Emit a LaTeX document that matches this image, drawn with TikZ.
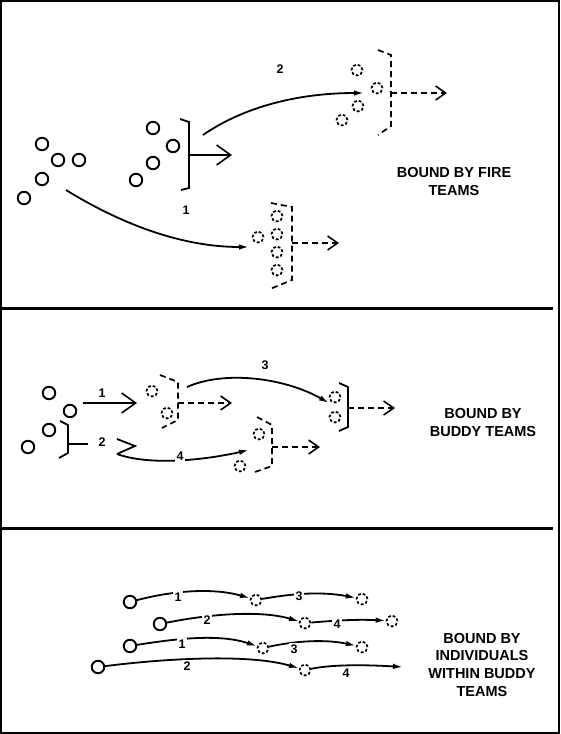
\documentclass[tikz,border=0pt]{standalone}
\usepackage{fontspec}
\setmainfont{Liberation Sans}
\usetikzlibrary{arrows.meta}
\begin{document}
\begin{tikzpicture}[x=1pt,y=-1pt,
  circ/.style={circle,draw,line width=1.9pt,minimum size=12.5pt,inner sep=0pt},
  dcirc/.style={circle,draw,line width=1.7pt,minimum size=11pt,inner sep=0pt,dash pattern=on 2.8pt off 2pt},
  ln/.style={line width=1.8pt},
  dln/.style={line width=1.7pt,dash pattern=on 6pt off 4pt},
  chev/.style={-{Straight Barb[length=14pt,width=20pt,line width=1.6pt]}},
  dchev/.style={-{Straight Barb[length=10pt,width=14pt,line width=1.6pt]}},
  farr/.style={-{Latex[length=10pt,width=5.5pt]}},
  lbl/.style={font=\bfseries\fontsize{12.5}{12.5}\selectfont,inner sep=1pt},
  wlbl/.style={lbl,fill=white,inner sep=2pt},
  txt/.style={font=\bfseries\fontsize{14.5}{18}\selectfont,align=center},
  frame/.style={line width=2.2pt},
]
\useasboundingbox (0,0) rectangle (560,734);
% frame and separators
\draw[frame] (1.1,1.1) rectangle (558.6,732.9);
\coordinate (s1l) at (0,308.5); \coordinate (s1r) at (553,308.5);
\coordinate (s2l) at (0,528.5); \coordinate (s2r) at (553,528.5);
\draw[frame] (s1l) -- (s1r);
\draw[frame] (s2l) -- (s2r);

%================ TOP PANEL =================
\node[circ] (a1) at (42,144) {};
\node[circ] (a2) at (58,160) {};
\node[circ] (a3) at (79,160) {};
\node[circ] (a4) at (42,179) {};
\node[circ] (a5) at (24,198) {};

\node[circ] (b1) at (153,128) {};
\node[circ] (b2) at (173,146) {};
\node[circ] (b3) at (153,163) {};
\node[circ] (b4) at (136,180) {};
\draw[ln] (180,119) -- (189,122) -- (189,188) -- (181,190);
\coordinate (bm) at (189,155);
\coordinate (bt) at (232,155);
\draw[ln,chev] (bm) -- (bt);

% group after move 2
\node[dcirc] (c1) at (357,70) {};
\node[dcirc] (c2) at (377,88) {};
\node[dcirc] (c3) at (358,106) {};
\node[dcirc] (c4) at (342,120) {};
\draw[dln] (378,50) -- (391,55) -- (391,126) -- (378,135);
\coordinate (cm) at (391,93);
\coordinate (ct) at (447,93);
\draw[dln,dchev] (cm) -- (ct);

% group after move 1
\node[dcirc] (d0) at (258,237) {};
\node[dcirc] (d1) at (277,216) {};
\node[dcirc] (d2) at (277,234) {};
\node[dcirc] (d3) at (277,252) {};
\node[dcirc] (d4) at (277,270) {};
\draw[dln] (271,203) -- (292,207) -- (292,280) -- (270,289);
\coordinate (dm) at (292,243);
\coordinate (dt) at (339,243);
\draw[dln,dchev] (dm) -- (dt);

% movement curves
\coordinate (m1s) at (66,190);
\coordinate (m1e) at (249,247);
\draw[ln,farr] (m1s) .. controls (105,214) and (170,247) .. (m1e);
\node[lbl] (l1) at (186,210) {1};
\coordinate (m2s) at (203,135);
\coordinate (m2e) at (364,93);
\draw[ln,farr] (m2s) .. controls (245,106) and (300,93) .. (m2e);
\node[lbl] (l2) at (280,69) {2};

\node[txt] (t1) at (454,182) {BOUND BY FIRE\\TEAMS};

%================ MIDDLE PANEL =================
\node[circ] (e1) at (49,393) {};
\node[circ] (e2) at (70,411) {};
\node[circ] (e3) at (49,430) {};
\node[circ] (e4) at (28,447) {};

% arrow 1
\coordinate (f1s) at (83,403);
\coordinate (f1e) at (137,403);
\draw[ln,chev] (f1s) -- (f1e);
\node[lbl] (l3) at (102,393) {1};

% bracket for buddy team 2 and arrow 2
\draw[ln] (60,421) -- (68,425) -- (68,453) -- (59,458);
\coordinate (g1s) at (68,444);
\coordinate (g1e) at (135,446);
\draw[ln] (g1s) -- (88,444);
\node[lbl] (l4) at (102,442) {2};
\coordinate (g1a) at (117,439);
\coordinate (g1b) at (117,454);
\draw[ln] (g1a) -- (g1e) -- (g1b);

% buddy team 1 after bound 1
\node[dcirc] (h1) at (152,391) {};
\node[dcirc] (h2) at (167,413) {};
\draw[dln] (160,375) -- (178,382) -- (178,420) -- (162,428);
\coordinate (hm) at (178,403);
\coordinate (ht) at (232,403);
\draw[dln,dchev] (hm) -- (ht);

% buddy team 1 after bound 3
\node[dcirc] (i1) at (335,397) {};
\node[dcirc] (i2) at (335,417) {};
\draw[ln] (339,383) -- (348,387) -- (348,427) -- (339,431);
\coordinate (im) at (348,408);
\coordinate (it) at (395,408);
\draw[dln,dchev] (im) -- (it);

% buddy team 2 after bound 4
\node[dcirc] (j1) at (259,434) {};
\node[dcirc] (j2) at (240,466) {};
\draw[dln] (257,417) -- (272,425) -- (272,466) -- (255,472);
\coordinate (jm) at (272,447);
\coordinate (jt) at (320,447);
\draw[dln,dchev] (jm) -- (jt);

% curve 3
\coordinate (k3s) at (187,387);
\coordinate (k3e) at (329,403);
\draw[ln,farr] (k3s) .. controls (225,370) and (285,378) .. (k3e);
\node[lbl] (l5) at (265,365) {3};

% curve 4
\coordinate (k4e) at (249,450);
\draw[ln,farr] (g1b) .. controls (150,466) and (205,460) .. (k4e);
\node[wlbl] (l6) at (180,456) {4};

\node[txt] (t2) at (483,423) {BOUND BY\\BUDDY TEAMS};

%================ BOTTOM PANEL =================
% row 1
\node[circ] (p1) at (130,602) {};
\node[dcirc] (p2) at (256,600) {};
\node[dcirc] (p3) at (362,599) {};
\draw[ln,farr] (p1) .. controls (175,590) and (215,588) .. (p2);
\draw[ln,farr] (p2) .. controls (290,594) and (320,591) .. (p3);
\node[wlbl] (r1) at (178,597) {1};
\node[wlbl] (r2) at (299,596) {3};
% row 2
\node[circ] (q1) at (160,624) {};
\node[dcirc] (q2) at (305,623) {};
\node[dcirc] (q3) at (392,621) {};
\draw[ln,farr] (q1) .. controls (210,614) and (260,610) .. (q2);
\draw[ln,farr] (q2) .. controls (330,621) and (355,619) .. (q3);
\node[wlbl] (r3) at (207,620) {2};
\node[wlbl] (r4) at (337,624) {4};
% row 3
\node[circ] (u1) at (130,646) {};
\node[dcirc] (u2) at (263,648) {};
\node[dcirc] (u3) at (362,647) {};
\draw[ln,farr] (u1) .. controls (180,638) and (220,634) .. (u2);
\draw[ln,farr] (u2) .. controls (295,641) and (325,639) .. (u3);
\node[wlbl] (r5) at (182,644) {1};
\node[wlbl] (r6) at (294,649) {3};
% row 4
\node[circ] (v1) at (98,667) {};
\node[dcirc] (v2) at (305,670) {};
\coordinate (v3) at (403,667);
\draw[ln,farr] (v1) .. controls (170,658) and (250,654) .. (v2);
\draw[ln,farr] (v2) .. controls (335,664) and (370,665) .. (v3);
\node[wlbl] (r7) at (187,666) {2};
\node[wlbl] (r8) at (346,673) {4};

\node[txt] (t3) at (482,665) {BOUND BY\\INDIVIDUALS\\WITHIN BUDDY\\TEAMS};
\end{tikzpicture}
\end{document}
